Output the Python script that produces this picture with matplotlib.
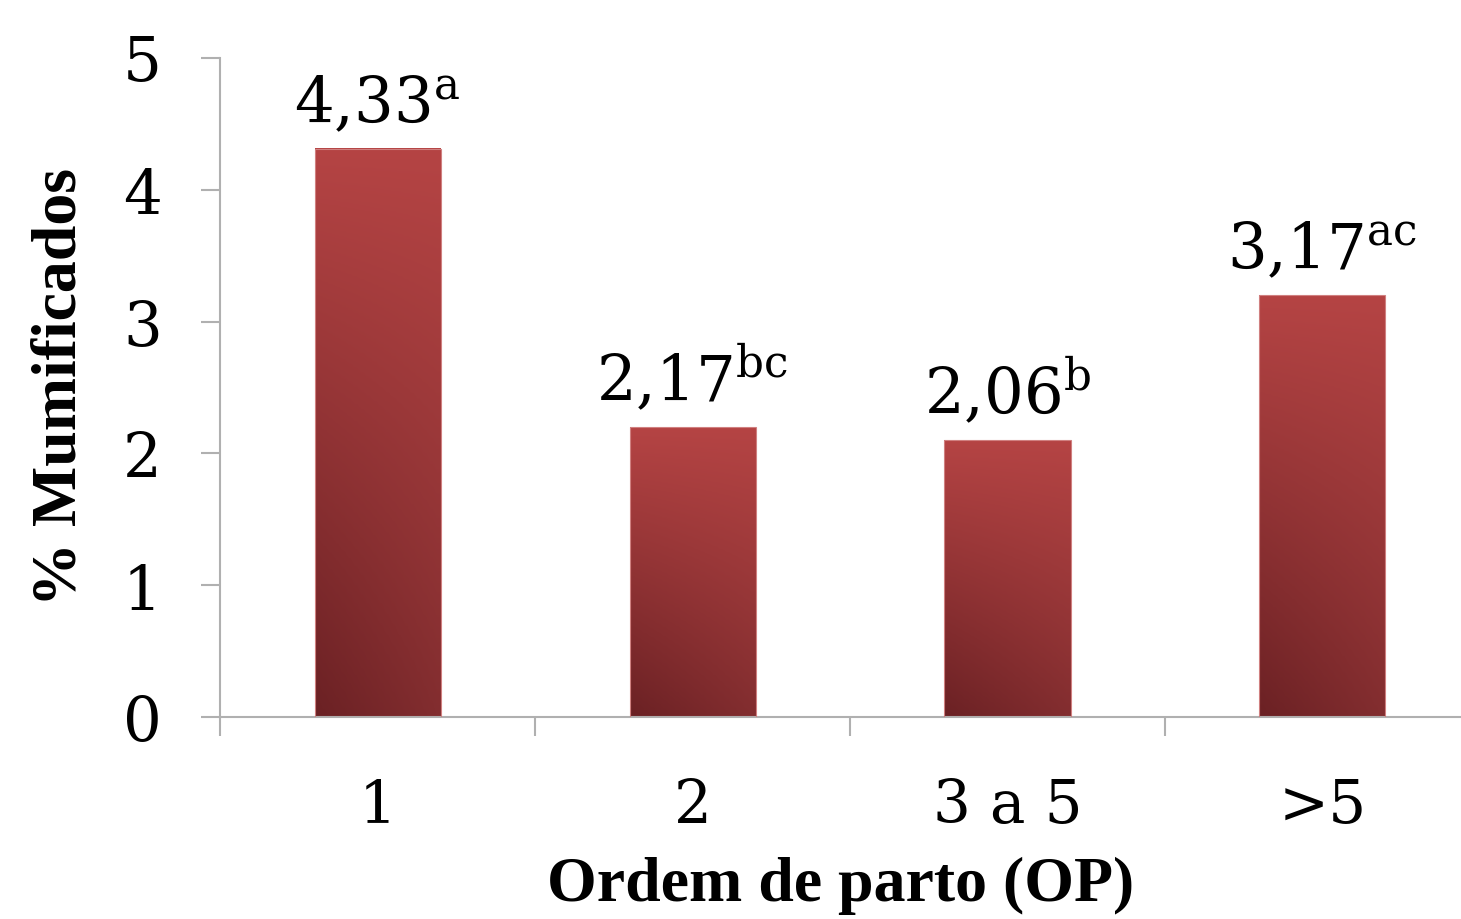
import matplotlib.pyplot as plt
import numpy as np

categorias = ['1', '2', '3 a 5', '>5']
alturas = [4.31, 2.20, 2.10, 3.20]
letras = ['a', 'bc', 'b', 'ac']
rotulos = ['4,33', '2,17', '2,06', '3,17']

plt.rcParams['font.family'] = ['DejaVu Serif']
plt.rcParams['mathtext.fontset'] = 'custom'
plt.rcParams['mathtext.rm'] = 'DejaVu Serif'

fig = plt.figure(figsize=(14.61, 9.19), dpi=100)
ax = fig.add_axes([220/1461, 1 - 717/919, (1461 - 220)/1461, (717 - 58)/919])

x = np.arange(len(alturas))
larg = 0.4
bars = ax.bar(x, alturas, width=larg, color='none', edgecolor='#d08080', linewidth=0.8, zorder=3)

# gradiente vertical (escuro embaixo) com leve variacao horizontal
topo = np.array([181, 68, 68]) / 255
base = np.array([107, 33, 36]) / 255
base_dir = np.array([130, 45, 47]) / 255
ny, nx = 200, 20
t = np.linspace(0, 1, ny)[:, None, None]
s = np.linspace(0, 1, nx)[None, :, None]
fundo = base * (1 - s) + base_dir * s
grad = fundo * (1 - t) + topo * t
for b in bars:
    x0 = b.get_x()
    h = b.get_height()
    ax.imshow(grad, extent=[x0, x0 + larg, 0, h], origin='lower', aspect='auto', zorder=2)

for xi, v, r, l in zip(x, alturas, rotulos, letras):
    ax.text(xi, v + 0.1, r + r'$^{\mathrm{' + l + '}}$', ha='center', va='bottom',
            fontsize=45, color='black')

ax.set_yticks(range(6))
ax.set_xticks(x)
ax.set_xticklabels(categorias)
ax.set_xticks(np.arange(-0.5, 4, 1), minor=True)
ax.set_xlim(-0.5, -0.5 + (1461 - 220) / 315)
ax.set_ylim(0, 5)
ax.tick_params(axis='x', which='major', length=0, labelsize=43, pad=43)
ax.tick_params(axis='x', which='minor', length=14, color='#b0b0b0', width=1.5, direction='out')
ax.tick_params(axis='y', length=14, color='#b0b0b0', width=1.5, labelsize=44, pad=28)

for sp in ['top', 'right']:
    ax.spines[sp].set_visible(False)
for sp in ['left', 'bottom']:
    ax.spines[sp].set_color('#b0b0b0')
    ax.spines[sp].set_linewidth(1.5)

ax.set_xlabel('Ordem de parto (OP)', fontsize=46, fontweight='bold', family='Liberation Serif', labelpad=16)
ax.set_ylabel('% Mumificados', fontsize=46, fontweight='bold', family='Liberation Serif', labelpad=24)

fig.savefig('out.png', dpi=100)
